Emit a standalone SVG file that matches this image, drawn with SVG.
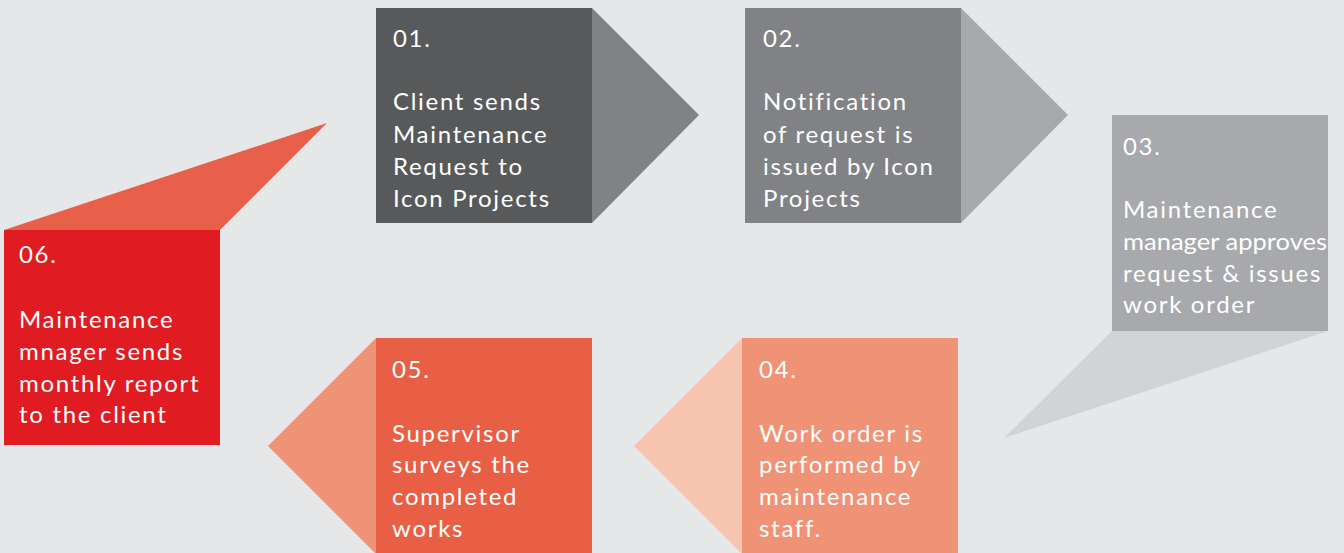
<svg xmlns="http://www.w3.org/2000/svg" width="1344" height="553" viewBox="0 0 1344 553">
<style>
text{font-family:Lato,"Noto Sans","Liberation Sans",sans-serif;font-size:24px;letter-spacing:1.7px;fill:#ffffff}
</style>
<rect width="1344" height="553" fill="#e6e7e8"/>
<g id="connectors">
<polygon points="592,8 699,115 592,223" fill="#808285"/>
<polygon points="961,8 1068,115 961,223" fill="#a7a9ac"/>
<polygon points="1112,331 1328,331 1004,438" fill="#d1d3d4"/>
<polygon points="742,338 634,446 742,554" fill="#f7c4b0"/>
<polygon points="376,338 268,446 376,554" fill="#f09275"/>
<polygon points="4,230 220,230 327,123" fill="#e8604a"/>
</g>
<g id="step01">
<rect x="376" y="8" width="216" height="215" fill="#58595b"/>
<text x="393" y="47">01.</text>
<text x="393" y="110">Client sends</text>
<text x="393" y="143">Maintenance</text>
<text x="393" y="175">Request to</text>
<text x="393" y="207">Icon Projects</text>
</g>
<g id="step02">
<rect x="745" y="8" width="216" height="215" fill="#808285"/>
<text x="763" y="47">02.</text>
<text x="763" y="110">Notification</text>
<text x="763" y="143">of request is</text>
<text x="763" y="175">issued by Icon</text>
<text x="763" y="207">Projects</text>
</g>
<g id="step03">
<rect x="1112" y="115" width="216" height="216" fill="#a7a9ac"/>
<text x="1123" y="155">03.</text>
<text x="1123" y="218">Maintenance</text>
<text x="1123" y="250" textLength="204" lengthAdjust="spacingAndGlyphs" style="letter-spacing:0">manager approves</text>
<text x="1123" y="282">request &amp; issues</text>
<text x="1123" y="313">work order</text>
</g>
<g id="step04">
<rect x="742" y="338" width="216" height="216" fill="#f09275"/>
<text x="759" y="378">04.</text>
<text x="759" y="442">Work order is</text>
<text x="759" y="473">performed by</text>
<text x="759" y="505">maintenance</text>
<text x="759" y="537">staff.</text>
</g>
<g id="step05">
<rect x="376" y="338" width="216" height="216" fill="#e85f46"/>
<text x="392" y="378">05.</text>
<text x="392" y="442">Supervisor</text>
<text x="392" y="473">surveys the</text>
<text x="392" y="505">completed</text>
<text x="392" y="537">works</text>
</g>
<g id="step06">
<rect x="4" y="230" width="216" height="215" fill="#e01b22"/>
<text x="19" y="263">06.</text>
<text x="19" y="328">Maintenance</text>
<text x="19" y="360">mnager sends</text>
<text x="19" y="392">monthly report</text>
<text x="19" y="423">to the client</text>
</g>
</svg>
